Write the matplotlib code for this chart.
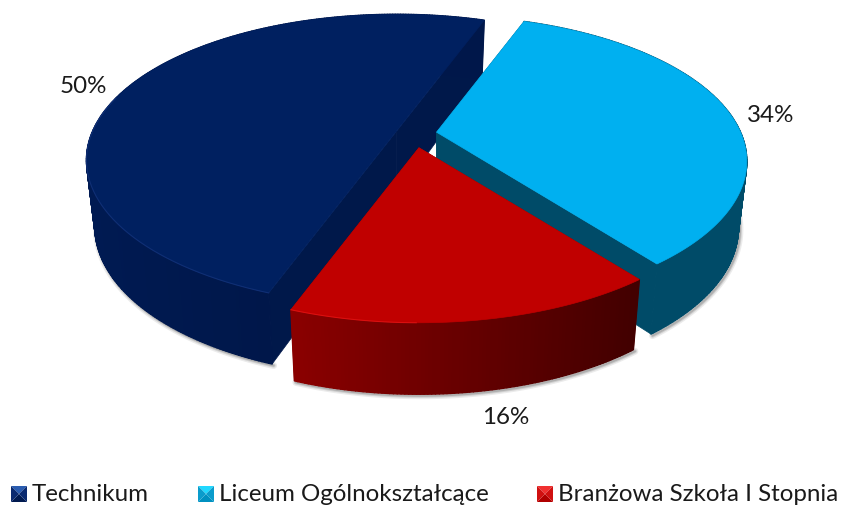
"""Exploded 3D-look pie of school types, drawn from the shares below."""

import numpy as np
import matplotlib

matplotlib.use("Agg")
import matplotlib.pyplot as plt
from matplotlib.collections import PolyCollection
from matplotlib.colors import to_rgb
from matplotlib.patches import Polygon

categories = ["Technikum", "Liceum Ogólnokształcące", "Branżowa Szkoła I Stopnia"]
shares = [50, 34, 16]
top_colors = ["#002060", "#00B0F0", "#C00000"]
wall_left = ["#001A52", "#004B68", "#8A0000"]
wall_right = ["#00174A", "#004B68", "#420000"]
cut_colors = ["#00184A", "#004B68", "#8A0000"]
rim_colors = ["#1F3F8C", "#33C8FF", "#FF2020"]
key_top = ["#2A5CB0", "#20D8FF", "#F03030"]
key_side = ["#0A2A70", "#0A9CCC", "#D01010"]
key_bottom = ["#001A50", "#0090C0", "#B00000"]

FIRST_ANGLE = 200.0
CX, CY = 412.0, 137.0
RX, RY = 304.0, 140.0
PERSP = 0.2
EXPLODE = 0.085
DEPTH = 65.0
SHRINK = 0.027
NUDGE_X = [9, -1, 3]
NUDGE_Y = [-1, -2, 0]
LABEL_R = 1.15
LABEL_DX = [-6, -1, 20]
LABEL_DY = [6, 6, 1]
LEGEND_X = [11, 198, 537]
LEGEND_Y = 495

plt.rcParams["font.family"] = ["Lato", "DejaVu Sans"]


def project(theta, apex, z=0.0):
    u, v = np.sin(theta), np.cos(theta)
    s = 1 / (1 + PERSP * v)
    x = apex[0] + RX * u * s * (1 - SHRINK * z)
    y = apex[1] - RY * v * s + z * DEPTH * (1 - 0.1 * v)
    return x, y


def points(thetas, apex, z=0.0):
    x, y = project(np.asarray(thetas), apex, z)
    return np.column_stack([x, y])


fig = plt.figure(figsize=(8.41, 5.06), dpi=100)
ax = fig.add_axes([0, 0, 1, 1])
ax.set_xlim(0, 841)
ax.set_ylim(506, 0)
ax.axis("off")

starts = FIRST_ANGLE + np.cumsum([0] + shares[:-1]) * 3.6
label_specs = []
for i, share in enumerate(shares):
    start = np.radians(starts[i])
    end = start + np.radians(share * 3.6)
    mid = (start + end) / 2
    apex = (
        CX + EXPLODE * RX * np.sin(mid) + NUDGE_X[i],
        CY - EXPLODE * RY * np.cos(mid) + NUDGE_Y[i],
    )
    arc = np.linspace(start, end, int(share * 6) + 2)
    base = 10 * (i + 1)

    rim = points(arc, apex)
    floor = points(arc, apex, 1.0)

    # soft shadow under the front of the wall
    front = np.cos(arc) < 0.25
    for lw, alpha in [(5, 0.10), (3, 0.16), (1.5, 0.22)]:
        ax.plot(floor[front, 0] + 1.5, floor[front, 1] + 1.5, color="#404040",
                lw=lw, alpha=alpha, zorder=base, solid_capstyle="round")

    # flat cut faces
    for edge in (start, end):
        top_pt = points([edge], apex)[0]
        low_pt = points([edge], apex, 1.0)[0]
        apex_low = (apex[0], apex[1] + DEPTH)
        ax.add_patch(Polygon([apex, top_pt, low_pt, apex_low], closed=True,
                             fc=cut_colors[i], ec=cut_colors[i], lw=0.5,
                             zorder=base + 1))

    # outer wall, shaded across its width
    quads = [
        [rim[j], rim[j + 1], floor[j + 1], floor[j]] for j in range(len(arc) - 1)
    ]
    xs = rim[:-1, 0]
    vis = np.cos(arc[:-1]) < 0.3
    lo, hi = xs[vis].min(), xs[vis].max()
    t = np.clip((xs - lo) / max(hi - lo, 1), 0, 1)[:, None]
    shades = (1 - t) * np.array(to_rgb(wall_left[i])) + t * np.array(to_rgb(wall_right[i]))
    ax.add_collection(PolyCollection(quads, facecolors=shades, edgecolors=shades,
                                     linewidths=1.0, zorder=base + 2))

    # top face
    ax.add_patch(Polygon(np.vstack([[apex], rim]), closed=True, fc=top_colors[i],
                         ec=top_colors[i], lw=0.5, zorder=base + 3))
    highlight = front & (np.sin(arc) < 0)
    if i != 1:
        ax.plot(rim[highlight, 0], rim[highlight, 1], color=rim_colors[i], lw=0.8,
                alpha=0.5, zorder=base + 4)

    lx, ly = project(mid, apex)
    lx = apex[0] + (lx - apex[0]) * LABEL_R + LABEL_DX[i]
    ly = apex[1] + (ly - apex[1]) * LABEL_R + LABEL_DY[i]
    if np.cos(mid) < 0:
        ly += DEPTH + 4
    label_specs.append((lx, ly, f"{share}%"))

for lx, ly, text in label_specs:
    ax.text(lx, ly, text, fontsize=17.4, color="#1A1A1A", ha="center", va="center",
            zorder=60)

# legend with bevelled keys
half = 8
for i, name in enumerate(categories):
    x0 = LEGEND_X[i]
    x1 = x0 + 2 * half
    y0, y1 = LEGEND_Y - half, LEGEND_Y + half
    xm, ym = x0 + half, (y0 + y1) / 2
    ax.add_patch(Polygon([(x0, y0), (x1, y0), (xm, ym)], fc=key_top[i], ec="none", zorder=70))
    ax.add_patch(Polygon([(x0, y1), (x1, y1), (xm, ym)], fc=key_bottom[i], ec="none", zorder=70))
    ax.add_patch(Polygon([(x0, y0), (x0, y1), (xm, ym)], fc=key_side[i], ec="none", zorder=70))
    ax.add_patch(Polygon([(x1, y0), (x1, y1), (xm, ym)], fc=key_side[i], ec="none", zorder=70))
    ax.text(x1 + 5, LEGEND_Y, name, fontsize=17.4, color="#1A1A1A", ha="left",
            va="center", zorder=70)

fig.savefig("out.png", dpi=100)
